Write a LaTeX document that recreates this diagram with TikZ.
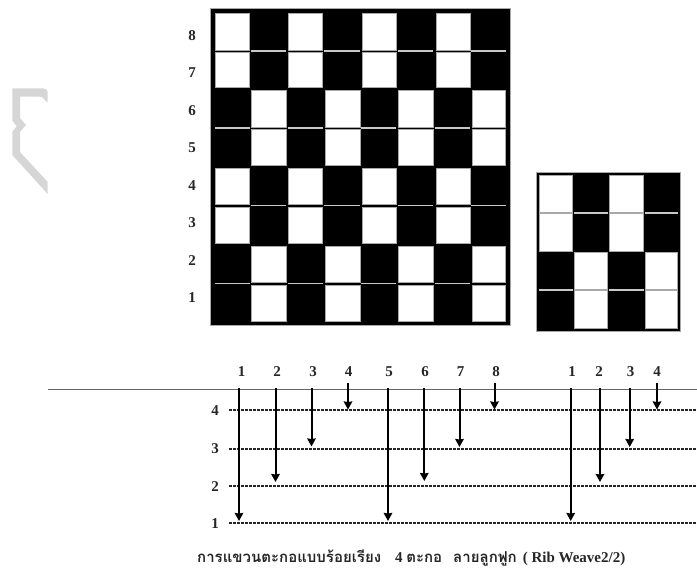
\documentclass[tikz,border=0pt]{standalone}
\usepackage{fontspec}
\setmainfont{Liberation Serif}
\newfontfamily\thaifont[Script=Thai]{Loma}
\usetikzlibrary{arrows.meta}
\definecolor{edgegrey}{HTML}{A8A8A8}
\definecolor{seamgrey}{HTML}{C8C8C8}
\definecolor{markgrey}{HTML}{D6D6D6}
\tikzset{
  x=1pt,y=-1pt,
  board/.style={fill=black,draw=edgegrey,line width=0.6pt},
  cell/.style={fill=white,draw=edgegrey,line width=0.5pt},
  seam/.style={draw=seamgrey,line width=1.1pt},
  num/.style={font=\bfseries\fontsize{15}{15}\selectfont,inner sep=0pt,text=black!85},
  warp/.style={draw=black!60,line width=1pt},
  shaft/.style={draw=black!85,line width=1.7pt,dash pattern=on 3pt off 1pt},
  lift/.style={draw=black,line width=2pt,-{Stealth[length=8pt,width=8.5pt,inset=0.5pt]}},
}
\begin{document}
\begin{tikzpicture}
\useasboundingbox (0,0) rectangle (697,571);
% faint mark at the left
\fill[markgrey] (12.3,88.3) -- (43,88.3) .. controls (46,88.3) and (47.7,90) .. (47.7,92) -- (47.7,102.7) -- (42,97) .. controls (41,96) and (40,96.7) .. (39,96.7) -- (20,96.7) -- (20,118) -- (26,125) -- (20,132) -- (20,152) -- (47.7,182) -- (47.7,194) -- (12.3,155) -- (12.3,132) -- (16.7,126) -- (12.3,120.7) -- cycle;
% large draft
\filldraw[board] (210.7,8.5) rectangle (510.7,325.7);
\foreach \r/\ya/\yb in {1/13.3/50,2/52.3/87.7,3/90.7/127,4/129.3/165.7,5/168.3/204.7,6/207.3/243.7,7/246.3/282.7,8/285.3/321}{
  \foreach \c/\xa/\xb in {1/215/249,2/251/286,3/288.3/322.7,4/325/360,5/362/396.3,6/398.7/433.3,7/436/470,8/472.3/505.7}{
    \pgfmathparse{int(mod(\c+(\r>2)*(\r<5)+(\r>6),2))}
    \ifnum\pgfmathresult=1
      \filldraw[cell] (\xa,\ya) rectangle (\xb,\yb);
    \fi
  }
}
\foreach \yy in {51,205.7}{
  \foreach \xa/\xb in {250.5/286,324/359.5,398/433,471/505.7}{
    \draw[seam] (\xa,\yy) -- (\xb,\yy);
  }
}
\foreach \yy in {128,283.7}{
  \foreach \xa/\xb in {215/249.5,288/322.5,361/396,434.5/469.5}{
    \draw[seam] (\xa,\yy) -- (\xb,\yy);
  }
}
% small draft
\filldraw[board] (536.7,172.7) rectangle (680,331);
\foreach \ya/\yb/\xa/\xb in {175/212.3/539/572.7,175/212.3/609.3/643.3,213.3/251/539/572.7,213.3/251/609.3/643.3,252.7/289.3/574/607.3,252.7/289.3/645/677.7,290.7/328.3/574/607.3,290.7/328.3/645/677.7}{
  \filldraw[cell] (\xa,\ya) rectangle (\xb,\yb);
}
\foreach \xa/\xb in {574/608,645/677.7}{\draw[seam] (\xa,213) -- (\xb,213);}
\foreach \xa/\xb in {539/573,609/643.5}{\draw[seam] (\xa,290) -- (\xb,290);}
% row numbers of the large draft
\foreach \n/\yy in {8/36,7/73,6/111,5/148,4/186,3/223,2/261,1/298}{
  \node[num] (row\n) at (192,\yy) {\n};
}
% warp line and shafts
\coordinate (warpL) at (48,389.3);
\coordinate (warpR) at (697,389.3);
\draw[warp] (warpL) -- (warpR);
\foreach \n/\yy in {4/410.3,3/448.7,2/486.3,1/523.3}{
  \node[num] (shaft\n) at (215,\yy) {\n};
  \coordinate (sL\n) at (229,\yy);
  \coordinate (sR\n) at (697,\yy);
  \draw[shaft] (sL\n) -- (sR\n);
}
% end numbers and threading arrows
\foreach \id/\lab/\lx/\ax/\ys/\ye in {a/1/241.5/239/388/521,b/2/277/275.5/388/482,c/3/313/311.5/388/446.5,d/4/348.5/348/383/409.5,e/5/389/388/388/521,f/6/425/424.3/388/481,g/7/460.5/459.5/388/447,h/8/496/494.5/383/409.5,i/1/572/570.7/388/521,j/2/599/600/388/482,k/3/630.5/629.7/388/447,l/4/657/657/383/409.5}{
  \node[num] (end\id) at (\lx,372) {\lab};
  \coordinate (top\id) at (\ax,\ys);
  \coordinate (bot\id) at (\ax,\ye);
  \draw[lift] (top\id) -- (bot\id);
}
% caption
\node[inner sep=0pt,anchor=west,font=\bfseries\fontsize{15}{17}\selectfont,text=black!85] (caption) at (197,558) {{\thaifont การแขวนตะกอแบบร้อยเรียง}\hspace{14pt}4 {\thaifont ตะกอ}\hspace{11pt}{\thaifont ลายลูกฟูก}\hspace{6pt}( Rib Weave2/2)};
\end{tikzpicture}
\end{document}
